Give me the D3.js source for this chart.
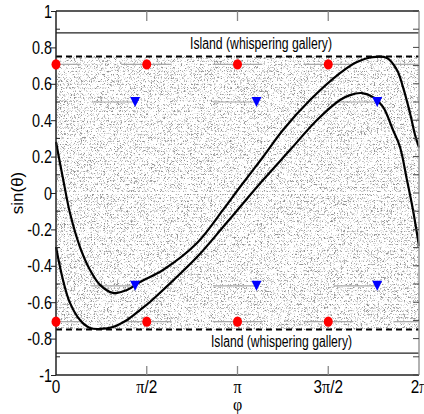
<!DOCTYPE html>
<html>
<head>
    <meta charset="utf-8">
    <title>billiard phase space</title>
    <style>
        * { margin: 0; padding: 0; }
        body { background: #fff; }
        svg { display: block; }
        .tick-label { font-family: "Liberation Sans", Arial, sans-serif; font-size: 18px; fill: #000; }
        .note { font-family: "Liberation Sans", Arial, sans-serif; font-size: 16px; fill: #000; }
    </style>
    <script src="https://cdn.jsdelivr.net/npm/d3@7/dist/d3.min.js"></script>
</head>
<body>
<div id="root"></div>
<script>
    var PI = Math.PI;

    // invariant curves: phi (rad), sin(theta)
    var curveOuter = [
        [0, 0.28], [0.126, 0.071], [0.242, -0.11], [0.415, -0.297], [0.589, -0.423],
        [0.762, -0.505], [0.987, -0.549], [1.229, -0.533], [1.454, -0.489], [1.852, -0.423],
        [2.441, -0.275], [2.891, -0.093], [3.185, 0.033], [3.583, 0.198], [3.929, 0.346],
        [4.397, 0.511], [4.916, 0.659], [5.21, 0.72], [5.487, 0.747], [5.729, 0.742],
        [5.902, 0.676], [6.006, 0.582], [6.127, 0.44], [6.214, 0.32], [6.283, 0.25]
    ];
    var curveInner = [
        [0, -0.297], [0.121, -0.478], [0.242, -0.604], [0.415, -0.698], [0.589, -0.742],
        [0.762, -0.747], [0.987, -0.736], [1.229, -0.698], [1.454, -0.643], [1.627, -0.599],
        [1.852, -0.533], [2.441, -0.352], [2.891, -0.187], [3.185, -0.077], [3.583, 0.071],
        [4.05, 0.236], [4.518, 0.401], [4.916, 0.511], [5.089, 0.538], [5.297, 0.549],
        [5.487, 0.527], [5.66, 0.473], [5.833, 0.346], [5.954, 0.253], [6.075, 0.071],
        [6.179, -0.093], [6.283, -0.291]
    ];

    // periodic orbits
    var squarePhi = [0, PI / 2, PI, 3 * PI / 2];
    var squareSin = [0.707, -0.707];
    var trianglePhi = [1.37, 3.47, 5.56];
    var triangleSin = [0.5, -0.51];

    // phase-space boundaries
    var galleryEdge = [0.75, -0.75];
    var islandLines = [0.88, -0.88];
    var seaGaps = [0, 0.2, 0.31, -0.22, -0.3];

    // axes
    var yTicks = [-1, -0.8, -0.6, -0.4, -0.2, 0, 0.2, 0.4, 0.6, 0.8, 1];
    var yTickLabels = ["-1", "-0.8", "-0.6", "-0.4", "-0.2", "0", "0.2", "0.4", "0.6", "0.8", "1"];
    var yMinor = [-0.9, -0.7, -0.5, -0.3, -0.1, 0.1, 0.3, 0.5, 0.7, 0.9];
    var xTicks = [0, PI / 2, PI, 3 * PI / 2, 2 * PI];
    var xTickLabels = [["0", "", ""], ["", "π", "/2"], ["", "π", ""], ["3", "π", "/2"], ["2", "π", ""]];

    render("#root");

    function render(root) {
        var width = 424, height = 414;
        var left = 56, right = 419, top = 11, bottom = 375;

        var svg = d3.select(root).append("svg").attr("width", width).attr("height", height);

        var x = d3.scaleLinear().domain([0, 2 * PI]).range([left, right]);
        var y = d3.scaleLinear().domain([-1, 1]).range([bottom, top]);

        // fine speckle texture for the chaotic sea
        var defs = svg.append("defs");
        var f = defs.append("filter").attr("id", "sea")
            .attr("filterUnits", "userSpaceOnUse")
            .attr("x", left).attr("y", y(galleryEdge[0]))
            .attr("width", right - left).attr("height", y(galleryEdge[1]) - y(galleryEdge[0]));
        f.append("feTurbulence").attr("type", "turbulence").attr("baseFrequency", 2.7)
            .attr("numOctaves", 1).attr("seed", 11);
        f.append("feColorMatrix").attr("type", "matrix")
            .attr("values", "0 0 0 0 0.28  0 0 0 0 0.28  0 0 0 0 0.28  3.4 0 0 0 -0.66");

        svg.append("rect").attr("x", left).attr("y", top)
            .attr("width", right - left).attr("height", bottom - top).attr("fill", "#fff");

        svg.append("rect")
            .attr("x", left).attr("y", y(galleryEdge[0]))
            .attr("width", right - left).attr("height", y(galleryEdge[1]) - y(galleryEdge[0]))
            .attr("fill", "#000").attr("filter", "url(#sea)");

        // white gaps in the sea
        svg.append("g").selectAll("line").data(seaGaps).enter().append("line")
            .attr("x1", left).attr("x2", right)
            .attr("y1", function (d) { return y(d); }).attr("y2", function (d) { return y(d); })
            .attr("stroke", "#fff")
            .attr("stroke-width", function (d) { return d === 0 ? 2 : 1; })
            .attr("stroke-opacity", function (d) { return d === 0 ? 0.95 : 0.6; });

        // small island chains round the periodic orbits (gray traces)
        var halfSeg = 0.43;
        var segs = [];
        squareSin.forEach(function (s) {
            squarePhi.forEach(function (p) {
                segs.push({ a: p - halfSeg, b: p + halfSeg, s: s });
                if (p === 0) segs.push({ a: 2 * PI - halfSeg, b: 2 * PI, s: s });
            });
        });
        triangleSin.forEach(function (s) {
            trianglePhi.forEach(function (p) {
                segs.push({ a: p - 0.75, b: p, s: s });
            });
        });
        svg.append("g").selectAll("line").data(segs).enter().append("line")
            .attr("x1", function (d) { return x(Math.max(0, d.a)); })
            .attr("x2", function (d) { return x(Math.min(2 * PI, d.b)); })
            .attr("y1", function (d) { return y(d.s); }).attr("y2", function (d) { return y(d.s); })
            .attr("stroke", "#a8a8a8").attr("stroke-width", 1.2);

        // island boundaries
        svg.append("g").selectAll("line").data(galleryEdge).enter().append("line")
            .attr("x1", left).attr("x2", right)
            .attr("y1", function (d) { return y(d); }).attr("y2", function (d) { return y(d); })
            .attr("stroke", "#000").attr("stroke-width", 2).attr("stroke-dasharray", "6,4");
        svg.append("g").selectAll("line").data(islandLines).enter().append("line")
            .attr("x1", left).attr("x2", right)
            .attr("y1", function (d) { return y(d); }).attr("y2", function (d) { return y(d); })
            .attr("stroke", "#222").attr("stroke-width", 1.3);

        // invariant curves
        var line = d3.line().x(function (d) { return x(d[0]); }).y(function (d) { return y(d[1]); })
            .curve(d3.curveCatmullRom);
        [curveOuter, curveInner].forEach(function (c) {
            svg.append("path").attr("d", line(c)).attr("fill", "none")
                .attr("stroke", "#000").attr("stroke-width", 2.2);
        });

        // frame
        svg.append("line").attr("x1", left).attr("x2", right).attr("y1", top).attr("y2", top)
            .attr("stroke", "#222").attr("stroke-width", 1.5);
        svg.append("line").attr("x1", left).attr("x2", right).attr("y1", bottom).attr("y2", bottom)
            .attr("stroke", "#222").attr("stroke-width", 1.5);
        svg.append("line").attr("x1", left).attr("x2", left).attr("y1", top).attr("y2", bottom)
            .attr("stroke", "#222").attr("stroke-width", 1.5);
        svg.append("line").attr("x1", right).attr("x2", right).attr("y1", top).attr("y2", bottom)
            .attr("stroke", "#999").attr("stroke-width", 1.5);

        // y axis: major ticks outward, minor inward
        var yAxis = d3.axisLeft(y).tickValues(yTicks).tickSize(5).tickFormat("");
        var gy = svg.append("g").attr("transform", "translate(" + left + ",0)").call(yAxis);
        gy.select(".domain").remove();
        gy.selectAll(".tick line").attr("stroke", "#222");
        svg.append("g").selectAll("line").data(yMinor).enter().append("line")
            .attr("x1", left).attr("x2", left + 4)
            .attr("y1", function (d) { return y(d); }).attr("y2", function (d) { return y(d); })
            .attr("stroke", "#222");
        svg.append("g").selectAll("line").data(yMinor.concat(yTicks)).enter().append("line")
            .attr("x1", right - 6).attr("x2", right)
            .attr("y1", function (d) { return y(d); }).attr("y2", function (d) { return y(d); })
            .attr("stroke", "#444");

        svg.append("g").selectAll("text").data(yTicks).enter().append("text")
            .attr("class", "tick-label")
            .attr("text-anchor", "end")
            .attr("transform", function (d) { return "translate(52," + (y(d) + 6.5) + ") scale(0.8,1)"; })
            .text(function (d, i) { return yTickLabels[i]; });

        // x ticks top and bottom (inside)
        var inner = xTicks.slice(1, 4);
        svg.append("g").selectAll("line").data(inner).enter().append("line")
            .attr("x1", function (d) { return x(d); }).attr("x2", function (d) { return x(d); })
            .attr("y1", bottom).attr("y2", bottom - 9).attr("stroke", "#888").attr("stroke-width", 1.3);
        svg.append("g").selectAll("line").data(inner).enter().append("line")
            .attr("x1", function (d) { return x(d); }).attr("x2", function (d) { return x(d); })
            .attr("y1", top).attr("y2", top + 10).attr("stroke", "#888").attr("stroke-width", 1.3);

        var xl = svg.append("g").selectAll("text").data(xTicks).enter().append("text")
            .attr("class", "tick-label")
            .attr("text-anchor", "middle")
            .attr("transform", function (d) { return "translate(" + x(d) + ",393) scale(0.85,1)"; });
        xl.append("tspan").text(function (d, i) { return xTickLabels[i][0]; });
        xl.append("tspan").style("font-family", "'Liberation Serif', serif").style("font-size", "19px")
            .text(function (d, i) { return xTickLabels[i][1]; });
        xl.append("tspan").text(function (d, i) { return xTickLabels[i][2]; });

        // axis titles
        svg.append("text").attr("x", x(PI)).attr("y", 410).attr("text-anchor", "middle")
            .style("font-family", "'Liberation Serif', serif").style("font-size", "16px").text("φ");
        svg.append("text").attr("transform", "translate(23,193) rotate(-90)").attr("text-anchor", "middle")
            .style("font-family", "'Liberation Sans', sans-serif").style("font-size", "17px").text("sin(θ)");

        // region labels
        svg.append("text").attr("class", "note").attr("x", 190).attr("y", 49)
            .attr("textLength", 142).attr("lengthAdjust", "spacingAndGlyphs")
            .text("Island (whispering gallery)");
        svg.append("text").attr("class", "note").attr("x", 211).attr("y", 347)
            .attr("textLength", 141).attr("lengthAdjust", "spacingAndGlyphs")
            .text("Island (whispering gallery)");

        // periodic orbit markers
        var sq = [];
        squareSin.forEach(function (s) { squarePhi.forEach(function (p) { sq.push([p, s]); }); });
        svg.append("g").selectAll("ellipse").data(sq).enter().append("ellipse")
            .attr("cx", function (d) { return x(d[0]); }).attr("cy", function (d) { return y(d[1]); })
            .attr("rx", 4.5).attr("ry", 5.2).attr("fill", "#f00");

        var tri = [];
        triangleSin.forEach(function (s) { trianglePhi.forEach(function (p) { tri.push([p, s]); }); });
        svg.append("g").selectAll("path").data(tri).enter().append("path")
            .attr("d", function (d) {
                var cx = x(d[0]), cy = y(d[1]);
                return "M" + (cx - 5) + "," + (cy - 5) + "L" + (cx + 5) + "," + (cy - 5) + "L" + cx + "," + (cy + 5) + "Z";
            })
            .attr("fill", "#00f");
    }
</script>
</body>
</html>
